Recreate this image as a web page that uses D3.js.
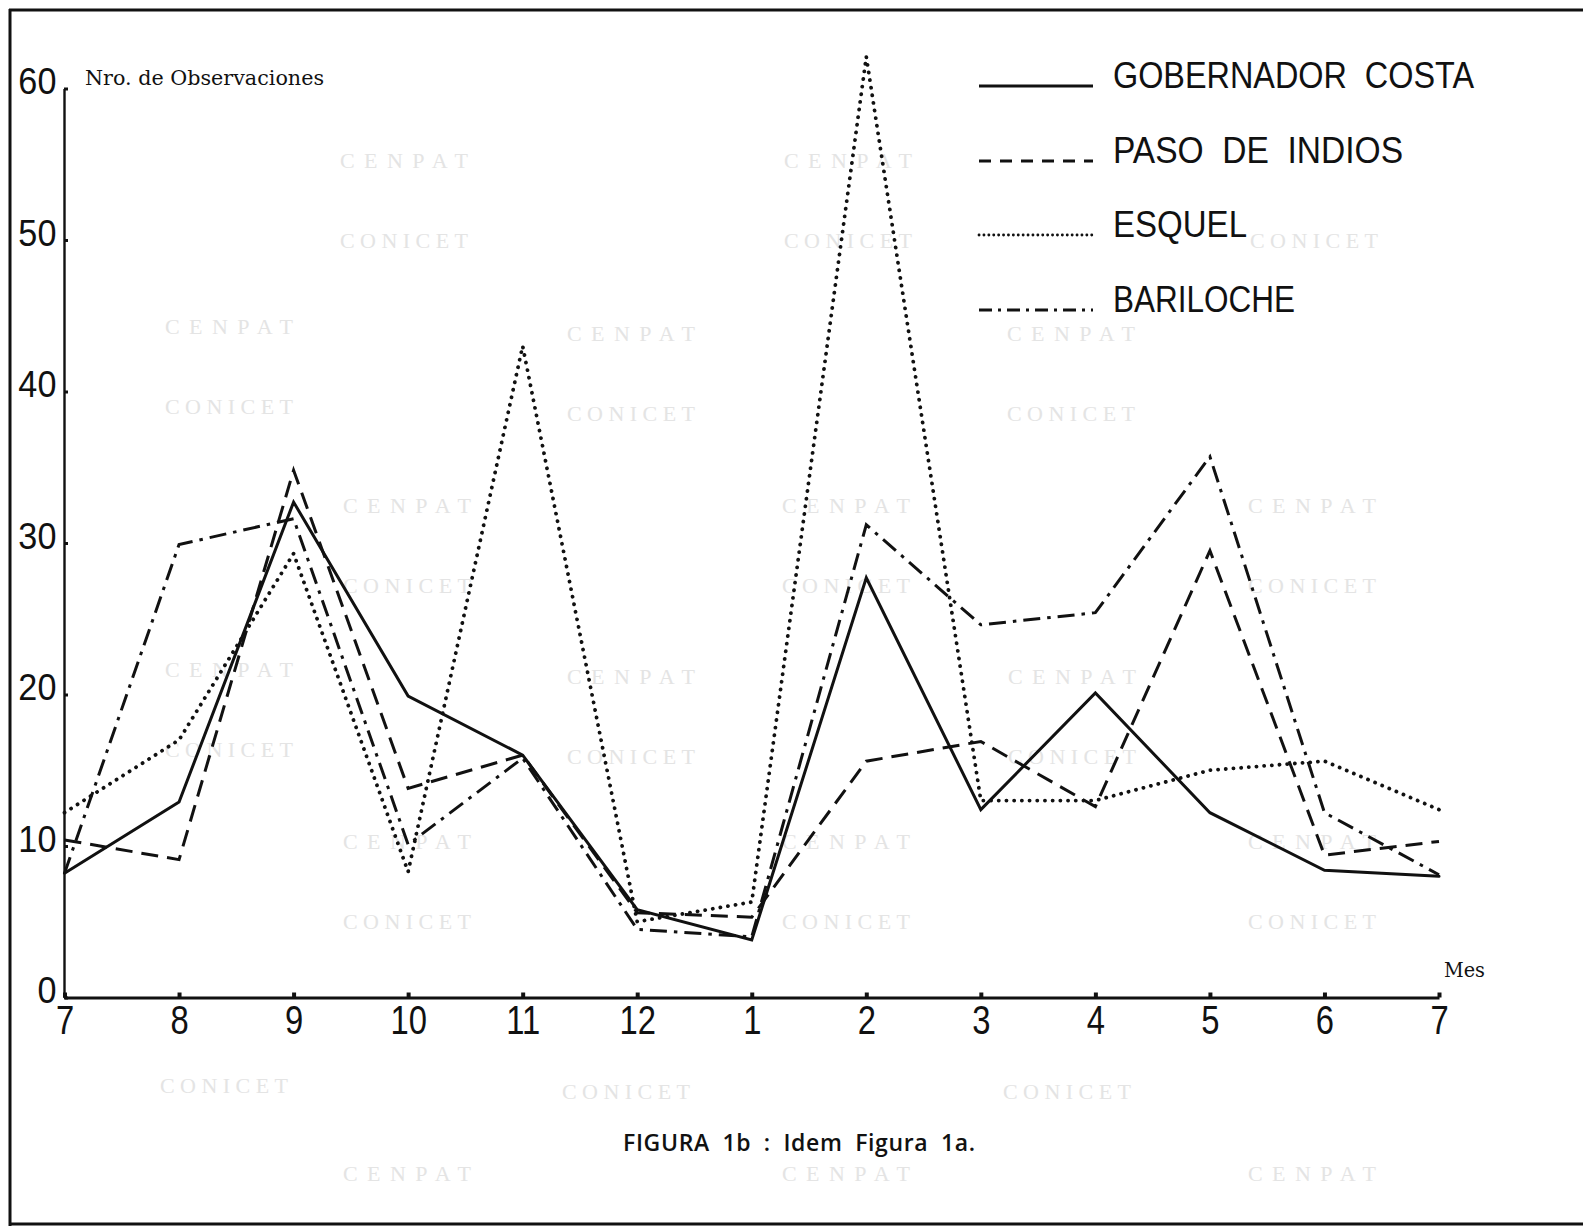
<!DOCTYPE html>
<html><head><meta charset="utf-8">
<script src="https://cdn.jsdelivr.net/npm/d3@7"></script>
<style>
html,body{margin:0;padding:0;background:#fff;}
svg{display:block;}
</style></head>
<body>
<svg id="chart" width="1583" height="1226"></svg>
<script>
// ---- data ----
const months = ["7","8","9","10","11","12","1","2","3","4","5","6","7"];
const gobernadorCosta = [8.2, 12.9, 32.7, 19.9, 16.0, 5.8, 3.8, 27.7, 12.4, 20.1, 12.2, 8.4, 8.0];
const pasoDeIndios    = [10.4, 9.1, 34.8, 13.8, 16.0, 5.6, 5.3, 15.6, 16.9, 12.6, 29.5, 9.4, 10.3];
const esquel          = [12.2, 17.0, 29.3, 8.3, 43.0, 5.0, 6.3, 62.1, 13.0, 13.0, 15.0, 15.6, 12.4];
const bariloche       = [8.2, 29.9, 31.6, 10.1, 15.8, 4.5, 4.0, 31.2, 24.6, 25.4, 35.7, 12.2, 8.1];
const seriesNames = ["GOBERNADOR  COSTA", "PASO  DE  INDIOS", "ESQUEL", "BARILOCHE"];
const yTicks = [0, 10, 20, 30, 40, 50, 60];
const watermarkTexts = ["CENPAT", "CONICET"];

// ---- layout / styles ----
const svg = d3.select("#chart");
const x = d3.scaleLinear().domain([0, 12]).range([64.5, 1439]);
const y = d3.scaleLinear().domain([0, 60]).range([997.5, 88.5]);

const seriesData = [gobernadorCosta, pasoDeIndios, esquel, bariloche];
const styles = [
  {dash: null, cap: "round", w: 3},
  {dash: "17,9", cap: "butt", w: 3},
  {dash: "0.1,7.6", cap: "round", w: 3.8},
  {dash: "17,7,3.5,7", cap: "butt", w: 3}
];
const legendStyles = [
  {dash: null, cap: "butt", w: 3},
  {dash: "12,9", cap: "butt", w: 3},
  {dash: "0.1,4.8", cap: "round", w: 2.8},
  {dash: "13,6,3,6", cap: "butt", w: 3}
];

// ---- watermark (faint) : [centerX, centerY, showTop, showBottom] ----
const wmCenters = [
  [404,160,1,1],[848,160,1,1],[1314,160,0,1],
  [229,326,1,1],[631,333,1,1],[1071,333,1,1],
  [407,505,1,1],[846,505,1,1],[1312,505,1,1],
  [229,669,1,1],[631,676,1,1],[1072,676,1,1],
  [407,841,1,1],[846,841,1,1],[1312,841,1,1],
  [224,1005,0,1],[626,1011,0,1],[1067,1011,0,1],
  [407,1173,1,0],[846,1173,1,0],[1312,1173,1,0]
];
const wm = svg.append("g").attr("fill", "#e4e4e4")
  .attr("font-family", "'Liberation Serif', 'DejaVu Serif', serif").attr("font-size", 22);
wmCenters.forEach(([cx, cy, a, b]) => {
  if (a) wm.append("text").attr("x", cx - 64).attr("y", cy + 8).attr("textLength", 128)
    .attr("lengthAdjust", "spacing").text(watermarkTexts[0]);
  if (b) wm.append("text").attr("x", cx - 64).attr("y", cy + 88).attr("textLength", 128)
    .attr("lengthAdjust", "spacing").text(watermarkTexts[1]);
});

// ---- frame ----
const frame = svg.append("g").attr("stroke", "#111").attr("stroke-width", 3).attr("fill", "none");
frame.append("line").attr("x1", 9).attr("y1", 10).attr("x2", 1583).attr("y2", 10);
frame.append("line").attr("x1", 10).attr("y1", 9).attr("x2", 10).attr("y2", 1226);
frame.append("line").attr("x1", 9).attr("y1", 1224).attr("x2", 1583).attr("y2", 1224);

// ---- axes ----
const xAxis = d3.axisBottom(x).tickValues(d3.range(months.length))
  .tickFormat(i => months[i]).tickSizeInner(-5).tickSizeOuter(0);
const gx = svg.append("g").attr("transform", `translate(0,${y(0)})`).call(xAxis);
gx.select(".domain").attr("stroke", "#111").attr("stroke-width", 3.2);
gx.selectAll(".tick line").attr("stroke", "#111").attr("stroke-width", 4);
gx.selectAll(".tick text")
  .attr("y", 37).attr("dy", 0)
  .attr("font-family", "'Liberation Sans', Arial, sans-serif")
  .attr("font-size", 40).attr("fill", "#111")
  .attr("transform", "scale(0.82,1)");

const yAxis = d3.axisLeft(y).tickValues(yTicks).tickSizeInner(-4).tickSizeOuter(0)
  .tickFormat(d3.format("d"));
const gy = svg.append("g").attr("transform", `translate(${x(0) - 0.5},0)`).call(yAxis);
gy.select(".domain").attr("stroke", "#111").attr("stroke-width", 2.4);
gy.selectAll(".tick line").attr("stroke", "#111").attr("stroke-width", 3);
gy.selectAll(".tick text")
  .attr("x", -8).attr("dy", 5)
  .attr("font-family", "'Liberation Sans', Arial, sans-serif")
  .attr("font-size", 36).attr("fill", "#111")
  .attr("transform", "scale(0.95,1)");

// axis titles
svg.append("text").attr("x", 85).attr("y", 85)
  .attr("font-family", "'DejaVu Serif', 'Liberation Serif', serif")
  .attr("font-size", 20).attr("fill", "#111")
  .attr("textLength", 239).attr("lengthAdjust", "spacingAndGlyphs")
  .text("Nro. de Observaciones");
svg.append("text").attr("x", 1444).attr("y", 977)
  .attr("font-family", "'DejaVu Serif', 'Liberation Serif', serif")
  .attr("font-size", 21).attr("fill", "#111")
  .attr("textLength", 41).attr("lengthAdjust", "spacingAndGlyphs")
  .text("Mes");

// ---- lines ----
const line = d3.line().x((d, i) => x(i)).y(d => y(d));
seriesData.forEach((vals, k) => {
  svg.append("path").datum(vals)
    .attr("d", line)
    .attr("fill", "none").attr("stroke", "#111")
    .attr("stroke-width", styles[k].w)
    .attr("stroke-linecap", styles[k].cap)
    .attr("stroke-linejoin", "miter")
    .attr("stroke-dasharray", styles[k].dash);
});

// ---- legend ----
const legY = [86, 161, 235, 310];
const legEnd = [1474, 1403, 1247, 1295];
const leg = svg.append("g");
seriesNames.forEach((name, k) => {
  leg.append("line").attr("x1", 979).attr("x2", 1093)
    .attr("y1", legY[k]).attr("y2", legY[k])
    .attr("stroke", "#111").attr("stroke-width", legendStyles[k].w)
    .attr("stroke-linecap", legendStyles[k].cap)
    .attr("stroke-dasharray", legendStyles[k].dash);
  leg.append("text").attr("x", 1113).attr("y", legY[k] + 2)
    .attr("font-family", "'Liberation Sans', Arial, sans-serif")
    .attr("font-size", 36).attr("fill", "#111")
    .attr("xml:space", "preserve").style("white-space", "pre")
    .attr("textLength", legEnd[k] - 1113).attr("lengthAdjust", "spacingAndGlyphs")
    .text(name);
});

// ---- caption ----
svg.append("text").attr("x", 623).attr("y", 1151)
  .attr("font-family", "'Open Sans', 'Lato', sans-serif")
  .attr("font-size", 23).attr("font-weight", 600).attr("fill", "#111")
  .attr("word-spacing", 6)
  .attr("textLength", 352).attr("lengthAdjust", "spacing")
  .text("FIGURA 1b : Idem Figura 1a.");
</script>
</body></html>
